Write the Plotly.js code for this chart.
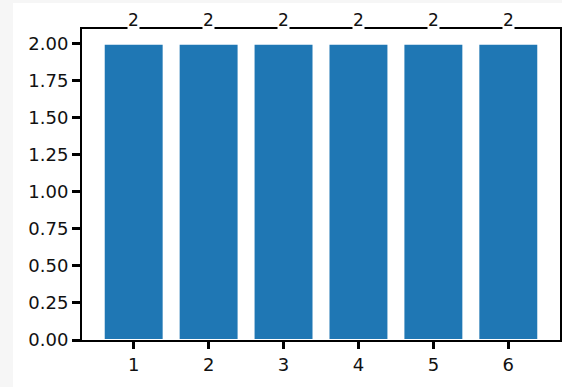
<!DOCTYPE html>
<html>
<head>
<meta charset="utf-8">
<script src="https://cdn.plot.ly/plotly-3.0.1.min.js"></script>
<style>
  html, body { margin: 0; padding: 0; background: #f6f6f6; width: 562px; height: 387px; overflow: hidden; }
  #chart { position: absolute; left: 13px; top: 3px; width: 549px; height: 384px; background: #ffffff; }
</style>
</head>
<body>
<div id="chart"></div>
<script>
const categories = [1, 2, 3, 4, 5, 6];
const values = [2, 2, 2, 2, 2, 2];
const yTickVals = [0, 0.25, 0.5, 0.75, 1.0, 1.25, 1.5, 1.75, 2.0];
const yTickText = ["0.00", "0.25", "0.50", "0.75", "1.00", "1.25", "1.50", "1.75", "2.00"];
const barLabels = values.map(v => String(v));

const fontFam = "DejaVu Sans, sans-serif";

const trace = {
  type: "bar",
  x: categories,
  y: values,
  width: 0.8,
  marker: { color: "#1f77b4", line: { color: "#ffffff", width: 2 } },
  hoverinfo: "skip"
};

const annotations = categories.map((c, i) => ({
  x: c, y: values[i], xref: "x", yref: "y",
  text: barLabels[i], showarrow: false,
  yshift: 24, bgcolor: "#ffffff", borderpad: 0,
  font: { family: fontFam, size: 17, color: "#111111" }
}));

const layout = {
  width: 549, height: 384,
  margin: { l: 69, r: 2, t: 26, b: 47 },
  paper_bgcolor: "#ffffff",
  plot_bgcolor: "#ffffff",
  showlegend: false,
  bargap: 0.2,
  xaxis: {
    range: [0.31, 6.69],
    tickvals: categories,
    ticktext: categories.map(String),
    ticks: "outside", ticklen: 7, tickwidth: 3, tickcolor: "#000000",
    showline: true, linecolor: "#000000", linewidth: 2, mirror: true,
    showgrid: false, zeroline: false,
    tickfont: { family: fontFam, size: 18, color: "#111111" }
  },
  yaxis: {
    range: [0, 2.1],
    tickvals: yTickVals,
    ticktext: yTickText,
    ticks: "outside", ticklen: 8, tickwidth: 3, tickcolor: "#000000",
    showline: true, linecolor: "#000000", linewidth: 2, mirror: true,
    showgrid: false, zeroline: false,
    tickfont: { family: fontFam, size: 18, color: "#111111" }
  },
  annotations: annotations
};

Plotly.newPlot("chart", [trace], layout, { displayModeBar: false, staticPlot: true });
</script>
</body>
</html>
